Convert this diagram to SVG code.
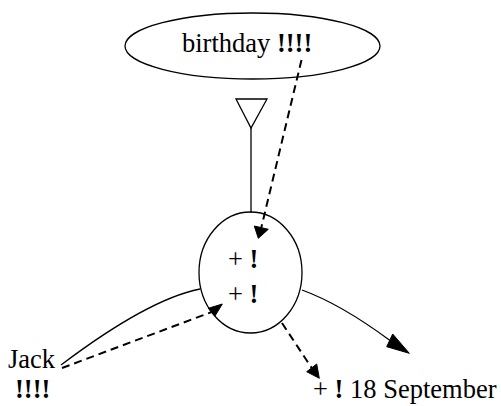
<svg xmlns="http://www.w3.org/2000/svg" width="501" height="406" viewBox="0 0 501 406">
<style>
.node{fill:none;stroke:#000;stroke-width:1.3}
.solid{fill:none;stroke:#000;stroke-width:1.3}
.dash{fill:none;stroke:#000;stroke-width:2;stroke-dasharray:8,5}
.head{fill:#000;stroke:#000;stroke-width:1}
text{font-family:"Liberation Serif","Times New Roman",serif;font-size:26.5px;fill:#000}
.b{font-weight:bold}
</style>
<rect width="501" height="406" fill="#fff"/>
<g id="connectors">
<polygon points="236,99 267,99 251,128" fill="#fff" stroke="#000" stroke-width="1.3"/>
<line class="solid" x1="251" y1="128" x2="251" y2="212.5"/>
<line class="dash" x1="301.5" y1="60" x2="261.3" y2="227.6"/>
<polygon class="head" points="254.3,226 268.3,229.3 258.3,238.3"/>
<path class="solid" d="M61,365 C110,328 160,297 200,289"/>
<line class="dash" x1="62" y1="368" x2="211.7" y2="312"/>
<polygon class="head" points="208.3,308.3 215,316 222.3,304"/>
<path class="solid" d="M302,290 C335,302 365,322 389.7,340.3"/>
<polygon class="head" points="392.7,334 386.7,346.7 409.3,353.3"/>
<line class="dash" x1="282" y1="323" x2="311.7" y2="368"/>
<polygon class="head" points="306.7,371.7 316.7,364 319.3,378.3"/>
</g>
<g id="birthday">
<ellipse class="node" cx="252.5" cy="46" rx="127.5" ry="33"/>
<text x="182" y="52">birthday <tspan class="b">!!!!</tspan></text>
</g>
<g id="center">
<ellipse class="node" cx="250.5" cy="272.5" rx="51.5" ry="60.5"/>
<text x="228" y="268">+ <tspan class="b">!</tspan></text>
<text x="228" y="303">+ <tspan class="b">!</tspan></text>
</g>
<g id="jack">
<text x="8" y="368">Jack</text>
<text x="15" y="398" class="b">!!!!</text>
</g>
<g id="september">
<text x="313" y="398">+ <tspan class="b">!</tspan> 18 September</text>
</g>
</svg>
